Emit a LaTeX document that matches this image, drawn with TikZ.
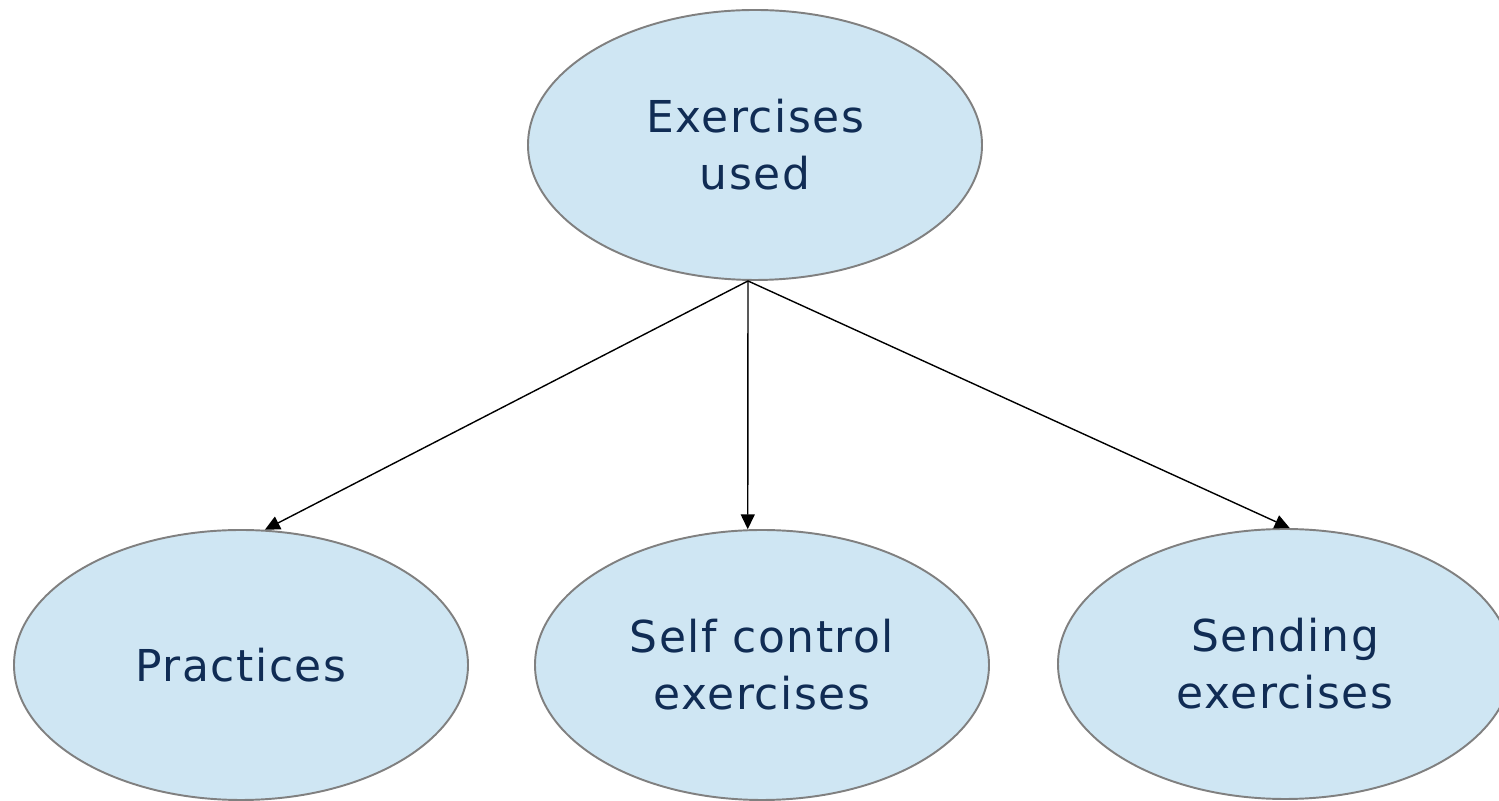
\documentclass[tikz,border=0pt]{standalone}
\usepackage{fontspec}
\setmainfont{DejaVu Sans}[LetterSpace=3.5]
\usetikzlibrary{shapes.geometric,arrows.meta}
\definecolor{bubblefill}{RGB}{207,230,243}
\definecolor{bubbleline}{RGB}{128,128,128}
\definecolor{bubbletext}{RGB}{16,44,84}
\tikzset{bubble/.style={ellipse,draw=bubbleline,line width=1.1pt,fill=bubblefill,
  minimum width=9.08cm,minimum height=5.4cm,inner sep=0pt,align=center,
  text=bubbletext,font=\fontsize{25}{32.4}\selectfont}}
\def\darr{\draw[-{Triangle[length=0.3cm,width=0.28cm]},line width=0.8pt]}

\begin{document}
\begin{tikzpicture}
                \useasboundingbox (0,0) rectangle (29.98,16.02);
                \node[bubble] (used)  at (15.10,13.12) {Exercises\\used};
                \node[bubble] (pract) at ( 4.82, 2.72) {Practices};
                \node[bubble] (self)  at (15.24, 2.72) {Self control\\exercises};
                \node[bubble] (send)  at (25.70, 2.74) {Sending\\exercises};
                \coordinate (src) at ([xshift=-0.14cm]used.south);
                \darr (src) -- (pract.80);
                \darr (src) -- (self.96);
                \darr (src) -- (send.88);
            \end{tikzpicture}
\end{document}
